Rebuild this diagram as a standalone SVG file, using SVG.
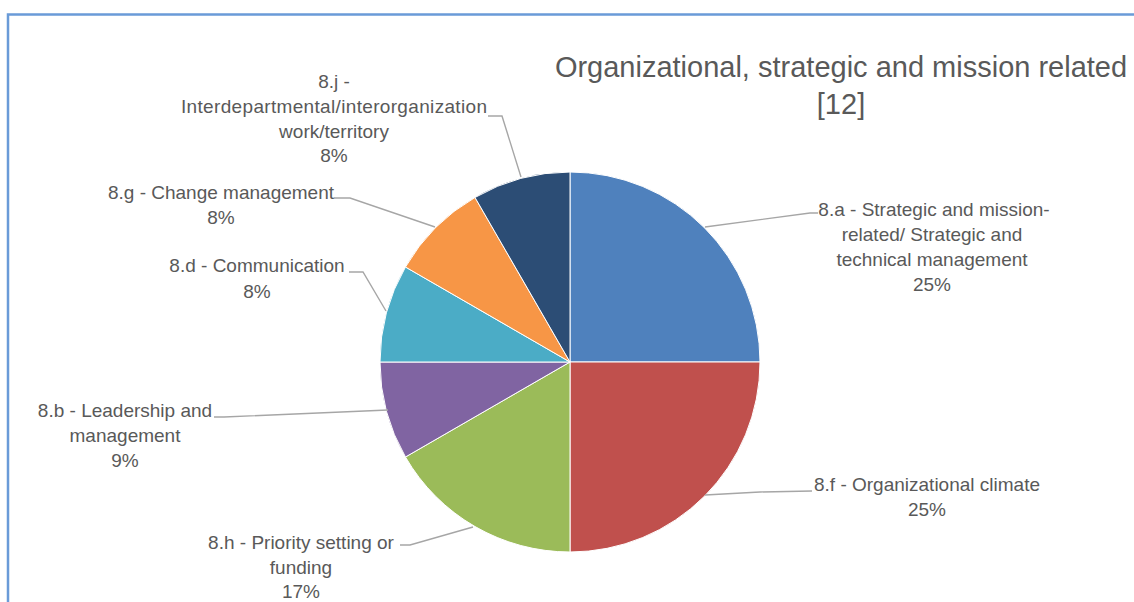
<svg xmlns="http://www.w3.org/2000/svg" width="1134" height="602" viewBox="0 0 1134 602">
<style>
.lbl{font-family:"Liberation Sans",Arial,sans-serif;font-size:19px;fill:#595959;text-anchor:middle}
.title{font-family:"Liberation Sans",Arial,sans-serif;font-size:29px;fill:#595959;text-anchor:middle}
.slice{stroke:#ffffff;stroke-width:1}
.lead{fill:none;stroke:#a6a6a6;stroke-width:1.4}
</style>
<rect x="0" y="0" width="1134" height="602" fill="#ffffff"/>
<path d="M8,602 L8,14.5 L1134,14.5" fill="none" stroke="#6a9bd8" stroke-width="2.5"/>
<g id="title">
<text class="title" x="841" y="77">Organizational, strategic and mission related</text>
<text class="title" x="841" y="114">[12]</text>
</g>
<g id="slice-8a"><path class="slice" fill="#4f81bd" d="M570,362 L570,172 A190,190 0 0,1 760,362 Z"/></g>
<g id="slice-8f"><path class="slice" fill="#c0504d" d="M570,362 L760,362 A190,190 0 0,1 570,552 Z"/></g>
<g id="slice-8h"><path class="slice" fill="#9bbb59" d="M570,362 L570,552 A190,190 0 0,1 405.46,457 Z"/></g>
<g id="slice-8b"><path class="slice" fill="#8064a2" d="M570,362 L405.46,457 A190,190 0 0,1 380,362 Z"/></g>
<g id="slice-8d"><path class="slice" fill="#4bacc6" d="M570,362 L380,362 A190,190 0 0,1 405.46,267 Z"/></g>
<g id="slice-8g"><path class="slice" fill="#f79646" d="M570,362 L405.46,267 A190,190 0 0,1 475,197.46 Z"/></g>
<g id="slice-8j"><path class="slice" fill="#2c4d75" d="M570,362 L475,197.46 A190,190 0 0,1 570,172 Z"/></g>
<g id="connectors">
<polyline class="lead" points="488,116 502,116 521,177"/>
<polyline class="lead" points="334,198 350,198 435,227"/>
<polyline class="lead" points="349,272 363,272 386,311"/>
<polyline class="lead" points="214,417 224,417 388,410"/>
<polyline class="lead" points="400,545 410,545 473,527"/>
<polyline class="lead" points="705,227 810,213 818,213"/>
<polyline class="lead" points="705,495 760,492 812,491"/>
</g>
<g id="label-8j">
<text class="lbl" x="334" y="88">8.j -</text>
<text class="lbl" x="334" y="113" textLength="306" lengthAdjust="spacing">Interdepartmental/interorganization</text>
<text class="lbl" x="334" y="138">work/territory</text>
<text class="lbl" x="334" y="162">8%</text>
</g>
<g id="label-8g">
<text class="lbl" x="221" y="199">8.g - Change management</text>
<text class="lbl" x="221" y="224">8%</text>
</g>
<g id="label-8d">
<text class="lbl" x="257" y="272">8.d - Communication</text>
<text class="lbl" x="257" y="298">8%</text>
</g>
<g id="label-8b">
<text class="lbl" x="125" y="417">8.b - Leadership and</text>
<text class="lbl" x="125" y="442">management</text>
<text class="lbl" x="125" y="467">9%</text>
</g>
<g id="label-8h">
<text class="lbl" x="301" y="549">8.h - Priority setting or</text>
<text class="lbl" x="301" y="574">funding</text>
<text class="lbl" x="301" y="598">17%</text>
</g>
<g id="label-8a">
<text class="lbl" x="934" y="216">8.a - Strategic and mission-</text>
<text class="lbl" x="932" y="241">related/ Strategic and</text>
<text class="lbl" x="932" y="266">technical management</text>
<text class="lbl" x="932" y="291">25%</text>
</g>
<g id="label-8f">
<text class="lbl" x="927" y="491">8.f - Organizational climate</text>
<text class="lbl" x="927" y="516">25%</text>
</g>
</svg>
